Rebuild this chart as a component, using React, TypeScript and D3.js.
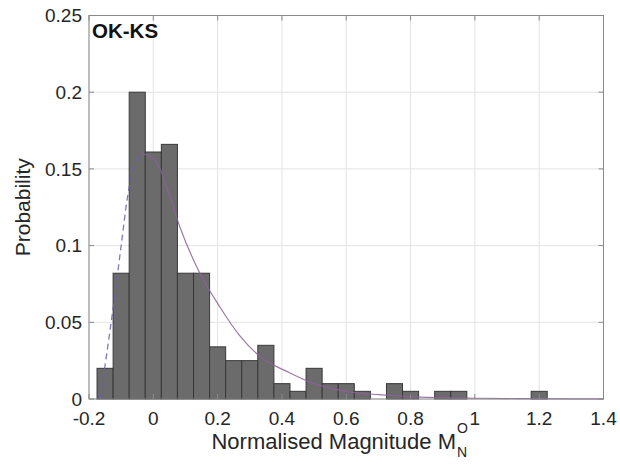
import React from "react";
import * as d3 from "d3";

const binCenters = [-0.15, -0.1, -0.05, 0, 0.05, 0.1, 0.15, 0.2, 0.25, 0.3, 0.35, 0.4, 0.45, 0.5, 0.55, 0.6, 0.65, 0.7, 0.75, 0.8, 0.85, 0.9, 0.95, 1.0, 1.05, 1.1, 1.15, 1.2];
const binProbs = [0.020, 0.082, 0.200, 0.161, 0.166, 0.082, 0.082, 0.034, 0.025, 0.025, 0.035, 0.010, 0.005, 0.020, 0.010, 0.010, 0.005, 0, 0.010, 0.005, 0, 0.005, 0.005, 0, 0, 0, 0, 0.005];
const binWidth = 0.05;

const dashedX = [-0.165, -0.15, -0.12, -0.1, -0.08, -0.06, -0.035];
const dashedY = [0, 0.022, 0.067, 0.1, 0.132, 0.152, 0.16];

const solidX = [-0.035, 0.0, 0.021, 0.05, 0.083, 0.14, 0.207, 0.27, 0.33, 0.425, 0.5, 0.6, 0.7, 0.8, 1.0, 1.2, 1.4];
const solidY = [0.16, 0.157, 0.15, 0.133, 0.112, 0.084, 0.06, 0.041, 0.028, 0.017, 0.01, 0.005, 0.0028, 0.0015, 0.0005, 0.0002, 0.0001];

const xTicks = [-0.2, 0, 0.2, 0.4, 0.6, 0.8, 1, 1.2, 1.4];
const xTickLabels = ["-0.2", "0", "0.2", "0.4", "0.6", "0.8", "1", "1.2", "1.4"];
const yTicks = [0, 0.05, 0.1, 0.15, 0.2, 0.25];
const yTickLabels = ["0", "0.05", "0.1", "0.15", "0.2", "0.25"];

const panelLabel = "OK-KS";
const yLabel = "Probability";
const xLabel = "Normalised Magnitude M";

const W = 620, H = 474;
const L = 89, R = 603.5, T = 15.5, B = 399;
const FONT = "'Liberation Sans', Arial, Helvetica, sans-serif";
const TXT = "#262626";

export default function App() {
  const x = d3.scaleLinear().domain([-0.2, 1.4]).range([L, R]);
  const y = d3.scaleLinear().domain([0, 0.25]).range([B, T]);
  const line = d3.line<[number, number]>().x(d => x(d[0])).y(d => y(d[1])).curve(d3.curveMonotoneX);
  const dashed = line(dashedX.map((v, i) => [v, dashedY[i]]));
  const solid = line(solidX.map((v, i) => [v, solidY[i]]));
  const tk = 5;
  return (
    <svg width={W} height={H} style={{ position: "absolute", left: 0, top: 0, background: "#fff" }} fontFamily={FONT}>
      <rect x={0} y={0} width={W} height={H} fill="#fff" />
      {xTicks.map((t, i) => (
        <line key={"gx" + i} x1={x(t)} x2={x(t)} y1={T} y2={B} stroke="#e3e3e3" strokeWidth={1} />
      ))}
      {yTicks.map((t, i) => (
        <line key={"gy" + i} x1={L} x2={R} y1={y(t)} y2={y(t)} stroke="#e3e3e3" strokeWidth={1} />
      ))}
      {binCenters.map((c, i) =>
        binProbs[i] > 0 ? (
          <rect key={"b" + i} x={x(c - binWidth / 2)} y={y(binProbs[i])} width={x(c + binWidth / 2) - x(c - binWidth / 2)} height={y(0) - y(binProbs[i])} fill="#6b6b6b" stroke="#383838" strokeWidth={1} />
        ) : null
      )}
      <path d={dashed || ""} fill="none" stroke="#6a5fb0" strokeWidth={1.3} strokeDasharray="6,4" opacity={0.85} />
      <path d={solid || ""} fill="none" stroke="#8e5f9e" strokeWidth={1.2} opacity={0.85} />
      <rect x={L} y={T} width={R - L} height={B - T} fill="none" stroke="#8a8a8a" strokeWidth={1} />
      {xTicks.map((t, i) => (
        <g key={"tx" + i}>
          <line x1={x(t)} x2={x(t)} y1={B} y2={B - tk} stroke="#8a8a8a" />
          <line x1={x(t)} x2={x(t)} y1={T} y2={T + tk} stroke="#8a8a8a" />
          <text x={x(t)} y={425} textAnchor="middle" fontSize={19} fill={TXT}>{xTickLabels[i]}</text>
        </g>
      ))}
      {yTicks.map((t, i) => (
        <g key={"ty" + i}>
          <line x1={L} x2={L + tk} y1={y(t)} y2={y(t)} stroke="#8a8a8a" />
          <line x1={R} x2={R - tk} y1={y(t)} y2={y(t)} stroke="#8a8a8a" />
          <text x={82} y={y(t)} dy="0.35em" textAnchor="end" fontSize={19} fill={TXT}>{yTickLabels[i]}</text>
        </g>
      ))}
      <text x={92} y={38} fontSize={20.5} fontWeight="bold" fill="#111">{panelLabel}</text>
      <text transform={`translate(30,${(T + B) / 2}) rotate(-90)`} textAnchor="middle" fontSize={21} fill={TXT}>{yLabel}</text>
      <text x={456} y={449} textAnchor="end" fontSize={22} fill={TXT}>{xLabel}</text>
      <text x={457} y={433} fontSize={14} fill={TXT}>O</text>
      <text x={457} y={457} fontSize={14} fill={TXT}>N</text>
    </svg>
  );
}
